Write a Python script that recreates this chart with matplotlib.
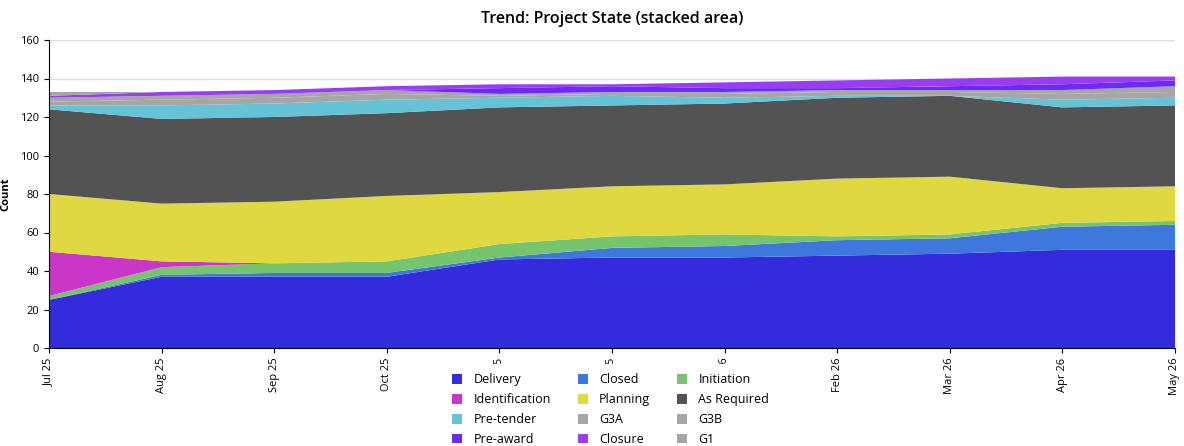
import numpy as np
import matplotlib.pyplot as plt

plt.rcParams['font.family'] = ['Open Sans', 'DejaVu Sans']

months = ['Jul 25', 'Aug 25', 'Sep 25', 'Oct 25', 'Nov 25', 'Dec 25',
          'Jan 26', 'Feb 26', 'Mar 26', 'Apr 26', 'May 26']

# bottom -> top stacking order
labels = ['Delivery', 'Closed', 'Initiation', 'Identification', 'Planning',
          'As Required', 'Pre-tender', 'G3A', 'G3B', 'Pre-award', 'Closure', 'G1']
delivery = [25, 37, 37, 37, 46, 47, 47, 48, 49, 51, 51]
closed = [0, 1, 2, 2, 1, 5, 6, 8, 8, 12, 13]
initiation = [2, 4, 5, 6, 7, 6, 6, 2, 2, 2, 2]
identification = [23, 3, 0, 0, 0, 0, 0, 0, 0, 0, 0]
planning = [30, 30, 32, 34, 27, 26, 26, 30, 30, 18, 18]
as_required = [44, 44, 44, 43, 44, 42, 42, 42, 42, 42, 42]
pre_tender = [2, 7, 7, 7, 5, 5, 3, 1, 0, 4, 4]
g3a = [2, 3, 3, 3, 1, 1, 2, 2, 2, 3, 3]
g3b = [2, 2, 2, 2, 1, 1, 1, 1, 1, 2, 3]
pre_award = [0, 0, 0, 0, 3, 3, 2, 1, 2, 3, 3]
closure = [1, 2, 2, 2, 2, 1, 3, 4, 4, 4, 2]
g1 = [2, 0, 0, 0, 0, 0, 0, 0, 0, 0, 0]

colors = ['#332bdc', '#3f78dc', '#77c46e', '#c936c8', '#e0d840', '#535353',
          '#66c2d6', '#a6a6a6', '#a6a6a6', '#6a2cf2', '#9b3cf2', '#a6a6a6']

series = [delivery, closed, initiation, identification, planning, as_required,
          pre_tender, g3a, g3b, pre_award, closure, g1]

fig = plt.figure(figsize=(11.84, 4.46), dpi=100)
ax = fig.add_axes([49/1184, 1-348/446, 1126/1184, 308/446])

x = np.arange(len(months))
polys = ax.stackplot(x, *series, colors=colors, labels=labels, linewidth=0)

ax.set_xlim(0, len(months)-1)
ax.set_ylim(0, 160)
ax.set_yticks(np.arange(0, 161, 20))
ax.set_xticks(x)
ax.set_xticklabels(months, rotation=90, fontsize=8)
ax.tick_params(axis='y', labelsize=8)
ax.grid(axis='y', color='#dddddd', linewidth=1)
ax.set_axisbelow(True)
for s in ['top', 'right']:
    ax.spines[s].set_visible(False)

ax.set_ylabel('Count', fontsize=8, fontweight='bold')
ax.yaxis.set_label_coords(-0.033, 0.5)
ax.set_title('Trend: Project State (stacked area)', fontsize=11.5,
             fontweight='semibold', pad=12)

# legend shown row by row, 3 columns
order = [0, 3, 6, 9, 1, 4, 7, 10, 2, 5, 8, 11]
leg = fig.legend([polys[i] for i in order], [labels[i] for i in order],
                 ncol=3, loc='upper left', bbox_to_anchor=(443/1184, 1-364/446),
                 fontsize=9, frameon=True, framealpha=1, edgecolor='white',
                 fancybox=False, handlelength=0.8, handleheight=0.8,
                 columnspacing=2.15, labelspacing=0.55, handletextpad=0.9,
                 borderpad=0.75, borderaxespad=0)

fig.savefig('out.png', dpi=100)
